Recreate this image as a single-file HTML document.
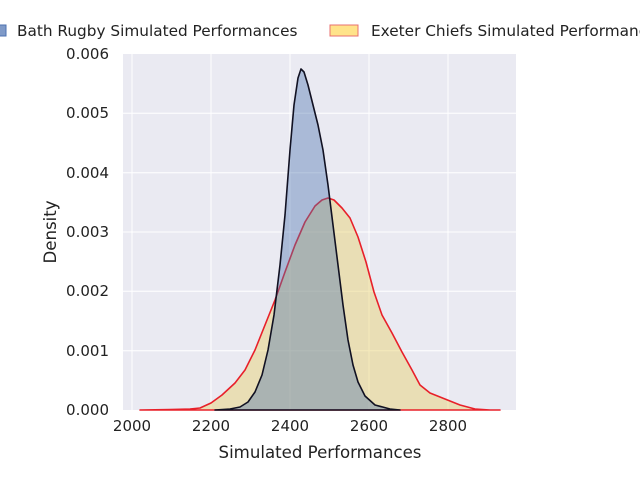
<!DOCTYPE html>
<html><head><meta charset="utf-8"><style>
html,body{margin:0;padding:0;background:#fff;}
svg{display:block;font-family:"DejaVu Sans","Liberation Sans",sans-serif;}
</style></head><body>
<svg width="640" height="480" viewBox="0 0 640 480">
<rect x="123" y="54" width="393" height="356" fill="#eaeaf2"/>
<g stroke="#fff" stroke-width="1">
<line x1="132" y1="54" x2="132" y2="410"/><line x1="211" y1="54" x2="211" y2="410"/>
<line x1="290" y1="54" x2="290" y2="410"/><line x1="369" y1="54" x2="369" y2="410"/>
<line x1="448" y1="54" x2="448" y2="410"/>
<line x1="123" y1="350.7" x2="516" y2="350.7"/><line x1="123" y1="291.3" x2="516" y2="291.3"/>
<line x1="123" y1="232" x2="516" y2="232"/><line x1="123" y1="172.7" x2="516" y2="172.7"/>
<line x1="123" y1="113.3" x2="516" y2="113.3"/>
</g>
<polygon points="140,410 170,409.5 190,409 200,408 211,403 222,395 235,383 245,370 255,350 265,325 275,300 285,272 295,245 305,222 315,206 322,200 328,198 334,200 342,208 350,218 358,237 366,262 374,292 382,315 392,333 402,352 412,370 420,385 430,393 445,399 460,405 475,409 490,410 500,410" fill="#e8d06a" fill-opacity="0.45" stroke="#e8202a" stroke-width="1.6" stroke-linejoin="round"/>
<polygon points="215,410 230,409 240,407 248,402 255,392 262,375 268,350 274,315 280,265 285,215 290,150 294,105 298,78 301,69 304,72 308,85 313,105 318,125 323,150 328,185 333,225 338,265 343,305 348,340 353,365 358,382 365,396 375,405 390,409 400,410" fill="#4c72b0" fill-opacity="0.4" stroke="#111122" stroke-width="1.6" stroke-linejoin="round"/>
<g font-size="15" fill="#222" text-anchor="middle">
<text x="132" y="431">2000</text><text x="211" y="431">2200</text><text x="290" y="431">2400</text><text x="369" y="431">2600</text><text x="448" y="431">2800</text>
</g>
<g font-size="15" fill="#222" text-anchor="end">
<text x="109" y="415">0.000</text><text x="109" y="356">0.001</text><text x="109" y="296">0.002</text><text x="109" y="237">0.003</text><text x="109" y="178">0.004</text><text x="109" y="118">0.005</text><text x="109" y="59">0.006</text>
</g>
<text x="320" y="458" font-size="16.6" fill="#222" text-anchor="middle">Simulated Performances</text>
<text x="56" y="232" font-size="16.6" fill="#222" text-anchor="middle" transform="rotate(-90 56 232)">Density</text>
<rect x="-20" y="25" width="26" height="11" fill="#7f9ac8" stroke="#4c72b0"/>
<text x="17" y="36" font-size="15.3" fill="#222">Bath Rugby Simulated Performances</text>
<rect x="330" y="25" width="28" height="11" fill="#ffe38a" stroke="#e87070"/>
<text x="371" y="36" font-size="15.3" fill="#222">Exeter Chiefs Simulated Performances</text>
</svg>
</body></html>
